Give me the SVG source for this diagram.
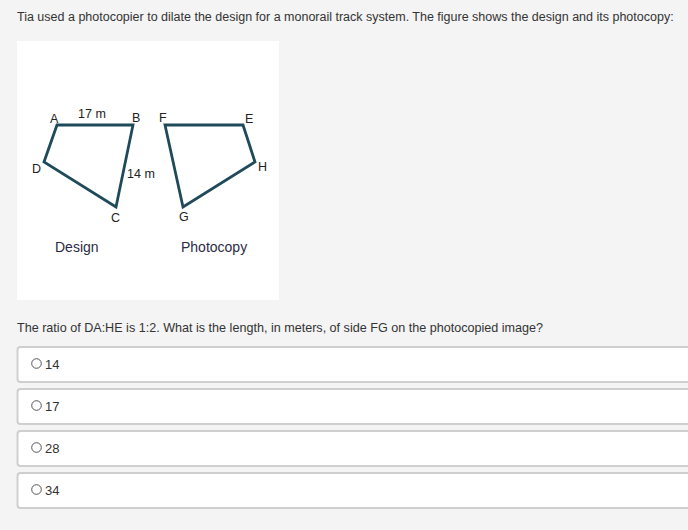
<svg xmlns="http://www.w3.org/2000/svg" width="688" height="530" viewBox="0 0 688 530">
<style>
.t{font-family:"Liberation Sans",Arial,sans-serif;fill:#333;}
.lbl{font-family:"Liberation Sans",Arial,sans-serif;font-size:12.5px;fill:#222;}
.cap{font-family:"Liberation Sans",Arial,sans-serif;font-size:14px;fill:#2b2b45;}
.shape{fill:none;stroke:#1f4a5a;stroke-width:2.8;stroke-linejoin:miter;}
.opt{fill:#fff;stroke:#cfcfcf;stroke-width:2;}
.radio{fill:#fff;stroke:#555;stroke-width:1;}
</style>
<rect x="0" y="0" width="688" height="530" fill="#f4f4f4"/>
<text class="t" x="17" y="21" font-size="12.5">Tia used a photocopier to dilate the design for a monorail track system. The figure shows the design and its photocopy:</text>
<rect x="17" y="41" width="262" height="259" fill="#fff"/>
<g id="design">
<polygon class="shape" points="57,125 133,125 116,207 44,162"/>
<text class="lbl" x="50" y="123">A</text>
<text class="lbl" x="78" y="118">17 m</text>
<text class="lbl" x="132" y="122">B</text>
<text class="lbl" x="32" y="173">D</text>
<text class="lbl" x="127" y="178">14 m</text>
<text class="lbl" x="111" y="222">C</text>
<text class="cap" x="55" y="252">Design</text>
</g>
<g id="photocopy">
<polygon class="shape" points="165,125 243,125 255,162 183,207"/>
<text class="lbl" x="159" y="122">F</text>
<text class="lbl" x="245" y="123">E</text>
<text class="lbl" x="258" y="171">H</text>
<text class="lbl" x="179" y="221">G</text>
<text class="cap" x="181" y="252">Photocopy</text>
</g>
<g id="connectors"></g>
<text class="t" x="17" y="332" font-size="13" textLength="526" lengthAdjust="spacingAndGlyphs">The ratio of DA:HE is 1:2. What is the length, in meters, of side FG on the photocopied image?</text>
<g id="opt1">
<rect class="opt" x="17.5" y="347" width="690" height="35" rx="3"/>
<circle class="radio" cx="36.5" cy="363.5" r="4.8"/>
<text class="t" x="45" y="369" font-size="13">14</text>
</g>
<g id="opt2">
<rect class="opt" x="17.5" y="389" width="690" height="35" rx="3"/>
<circle class="radio" cx="36.5" cy="405.5" r="4.8"/>
<text class="t" x="45" y="411" font-size="13">17</text>
</g>
<g id="opt3">
<rect class="opt" x="17.5" y="431" width="690" height="35" rx="3"/>
<circle class="radio" cx="36.5" cy="447.5" r="4.8"/>
<text class="t" x="45" y="453" font-size="13">28</text>
</g>
<g id="opt4">
<rect class="opt" x="17.5" y="473" width="690" height="35" rx="3"/>
<circle class="radio" cx="36.5" cy="489.5" r="4.8"/>
<text class="t" x="45" y="495" font-size="13">34</text>
</g>
</svg>
